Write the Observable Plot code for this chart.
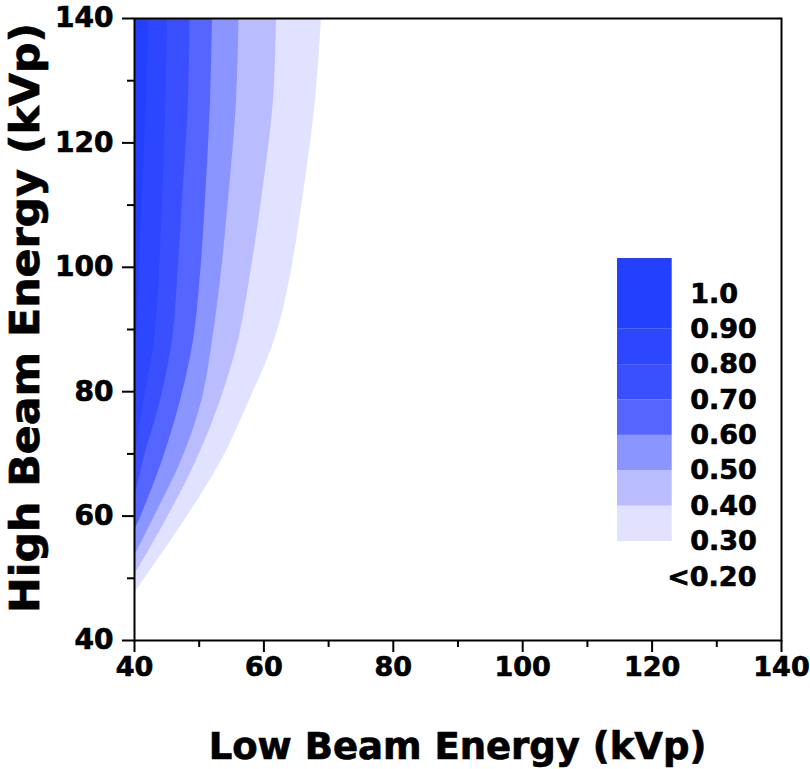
<!DOCTYPE html>
<html><head><meta charset="utf-8">
<script src="https://cdn.jsdelivr.net/npm/d3@7"></script>
<script src="https://cdn.jsdelivr.net/npm/@observablehq/plot@0.6"></script>
<style>
body{margin:0;background:#fff;}
#wrap{position:relative;width:810px;height:769px;overflow:hidden;}
#legend{position:absolute;left:610px;top:250px;}
#wrap text{stroke:black;stroke-width:0.7px;}
</style></head>
<body><div id="wrap"><div id="chart"></div><div id="legend"></div></div>
<script>
// Contour levels (lower bound of each band) and band colours
const levels = [0.3, 0.4, 0.5, 0.6, 0.7, 0.8, 0.9];
const bandColors = ["#e1e2ff", "#b9bdff", "#8b95ff", "#5565ff", "#3a50ff", "#2c47ff", "#2340ff"];

// Contour boundaries: Low beam energy (x, kVp) at given High beam energy (y, kVp)
const c30y = [47.56, 59.29, 68.94, 78.59, 88.23, 97.88, 110.74, 126.82, 140];
const c30x = [40, 47.73, 53.45, 57.77, 61.64, 63.96, 65.97, 67.98, 68.90];
const c40y = [50.45, 59.29, 68.94, 78.59, 88.23, 97.88, 110.74, 126.82, 140];
const c40x = [40, 44.84, 49.58, 53.29, 56.07, 57.77, 59.63, 61.48, 61.95];
const c50y = [53.50, 59.29, 68.94, 78.59, 88.23, 97.88, 110.74, 126.82, 140];
const c50x = [40, 42.78, 47.26, 50.43, 52.06, 53.29, 54.53, 55.77, 56.15];
const c60y = [57.68, 59.29, 68.94, 78.59, 88.23, 97.88, 110.74, 126.82, 140];
const c60x = [40, 40.73, 44.33, 47.11, 49.12, 50.12, 50.97, 51.75, 52.06];
const c70y = [62.51, 68.94, 78.59, 88.23, 97.88, 110.74, 126.82, 140];
const c70x = [40, 41.39, 44.02, 45.87, 46.65, 47.42, 48.35, 48.58];
const c80y = [68.94, 78.59, 88.23, 97.88, 110.74, 126.82, 140];
const c80x = [40, 41.47, 43.09, 43.79, 44.33, 44.87, 45.10];
const c90y = [78.59, 88.23, 97.88, 110.74, 126.82, 140];
const c90x = [40, 40.31, 40.70, 41.16, 41.85, 42.24];

const xTicks = [40, 60, 80, 100, 120, 140];
const xMinor = [50, 70, 90, 110, 130];
const yTicks = [40, 60, 80, 100, 120, 140];
const yMinor = [50, 70, 90, 110, 130];

const xTitle = "Low Beam Energy (kVp)";
const yTitle = "High Beam Energy (kVp)";

// Legend
const legendLo = [0.3, 0.4, 0.5, 0.6, 0.7, 0.8, 0.9];
const legendHi = [0.4, 0.5, 0.6, 0.7, 0.8, 0.9, 1.1];
const legendLabels = ["1.0", "0.90", "0.80", "0.70", "0.60", "0.50", "0.40", "0.30"];
const legendLabelValues = [1.0, 0.9, 0.8, 0.7, 0.6, 0.5, 0.4, 0.3];
const legendLastLabel = "<0.20";
const legendLastValue = 0.2;

const boundaryX = [c30x, c40x, c50x, c60x, c70x, c80x, c90x];
const boundaryY = [c30y, c40y, c50y, c60y, c70y, c80y, c90y];
const boundaries = boundaryX.map((xs, i) => xs.map((x, j) => ({x, y: boundaryY[i][j]})));

const font = "DejaVu Sans";

const chart = Plot.plot({
  width: 810,
  height: 769,
  marginLeft: 134,
  marginRight: 29,
  marginTop: 18,
  marginBottom: 129,
  style: {fontFamily: font, fontWeight: "bold", color: "black", background: "white"},
  x: {domain: [40, 140]},
  y: {domain: [40, 140]},
  marks: [
    ...boundaries.map((b, i) => Plot.areaX(b, {x1: 40, x2: "x", y: "y", fill: bandColors[i], curve: "catmull-rom", clip: true})),
    Plot.axisX({ticks: xMinor, tickSize: 7, strokeWidth: 2, tickFormat: () => "", label: null}),
    Plot.axisX({ticks: xTicks, tickSize: 12, strokeWidth: 2, tickPadding: 4, fontSize: 27, fontWeight: "bold", label: null}),
    Plot.axisY({ticks: yMinor, tickSize: 7, strokeWidth: 2, tickFormat: () => "", label: null}),
    Plot.axisY({ticks: yTicks, tickSize: 12, strokeWidth: 2, tickPadding: 9, fontSize: 28, fontWeight: "bold", label: null}),
    Plot.frame({stroke: "black", strokeWidth: 2})
  ]
});
document.getElementById("chart").appendChild(chart);

const svg = d3.select(chart);
svg.append("text")
  .attr("x", 457.5).attr("y", 759)
  .attr("text-anchor", "middle")
  .attr("font-family", font).attr("font-weight", "bold").attr("font-size", 37)
  .attr("fill", "black")
  .text(xTitle);
svg.append("text")
  .attr("transform", "translate(39,318) rotate(-90)")
  .attr("text-anchor", "middle")
  .attr("font-family", font).attr("font-weight", "bold").attr("font-size", 41)
  .attr("textLength", 590).attr("lengthAdjust", "spacingAndGlyphs")
  .attr("fill", "black")
  .text(yTitle);

const legendRows = legendLo.map((lo, i) => ({lo, hi: legendHi[i], color: bandColors[i]}));
const legend = Plot.plot({
  width: 170,
  height: 380,
  marginLeft: 7,
  marginRight: 108.3,
  marginTop: 8,
  marginBottom: 53.6,
  style: {fontFamily: font, fontWeight: "bold", color: "black", background: "transparent", overflow: "visible"},
  x: {domain: [0, 1], axis: null},
  y: {domain: [0.2, 1.1], axis: null},
  color: {type: "identity"},
  marks: [
    Plot.rect(legendRows, {x1: 0, x2: 1, y1: "lo", y2: "hi", fill: "color"}),
    Plot.text(legendLabels, {x: 1, y: (d, i) => legendLabelValues[i], text: d => d, dx: 18, textAnchor: "start", fontSize: 27, fontWeight: "bold"}),
    Plot.text([legendLastLabel], {x: 1, y: [legendLastValue], text: d => d, dx: -5, textAnchor: "start", fontSize: 27, fontWeight: "bold"})
  ]
});
document.getElementById("legend").appendChild(legend);
</script>
</body></html>
